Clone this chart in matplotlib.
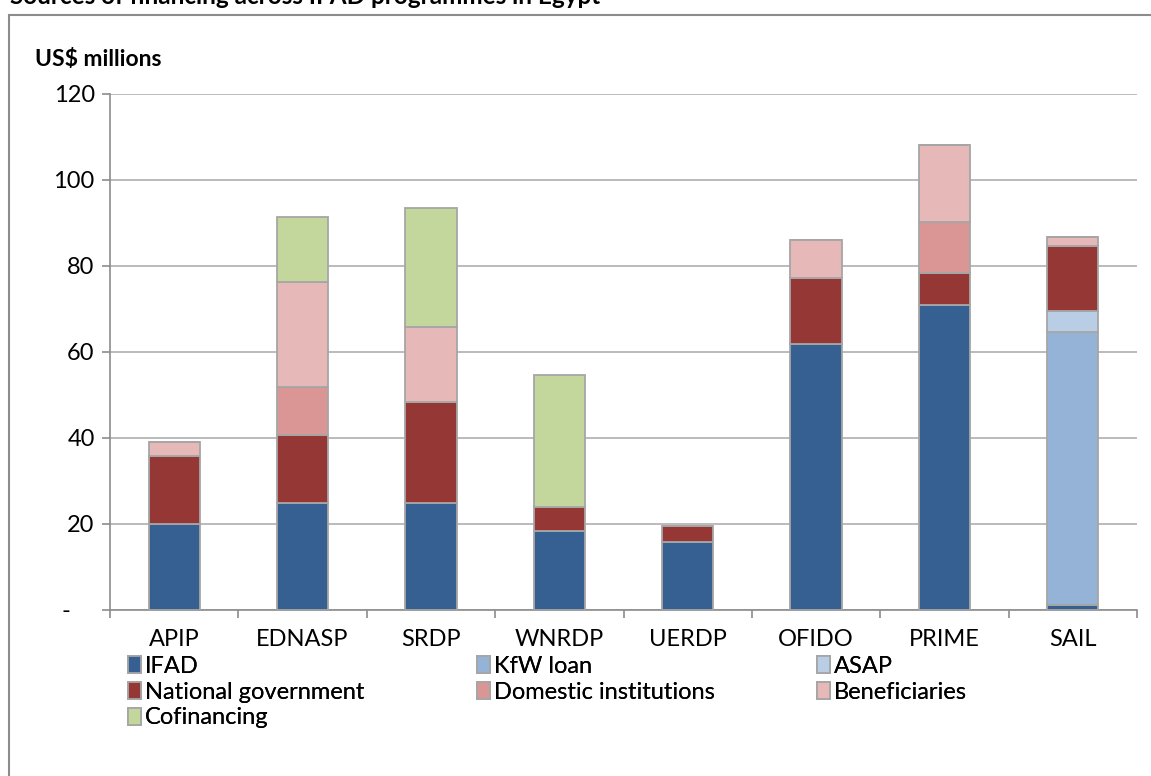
import matplotlib
matplotlib.use("Agg")
import matplotlib.pyplot as plt
from matplotlib.patches import Rectangle
import numpy as np

categories = ["APIP", "EDNASP", "SRDP", "WNRDP", "UERDP", "OFIDO", "PRIME", "SAIL"]
series_names = ["IFAD", "KfW loan", "ASAP", "National government",
                "Domestic institutions", "Beneficiaries", "Cofinancing"]
ifad = [20.0, 24.8, 25.0, 18.4, 15.9, 61.9, 70.9, 1.2]
kfw = [0, 0, 0, 0, 0, 0, 0, 63.4]
asap = [0, 0, 0, 0, 0, 0, 0, 4.9]
natgov = [15.8, 15.9, 23.3, 5.5, 3.7, 15.2, 7.4, 15.2]
domestic = [0, 11.2, 0, 0, 0, 0, 12.0, 0]
beneficiaries = [3.3, 24.3, 17.4, 0, 0, 8.9, 17.8, 2.1]
cofinancing = [0, 15.3, 27.9, 30.8, 0, 0, 0, 0]
yticks = [0, 20, 40, 60, 80, 100, 120]
ytick_labels = ["-    ", "20", "40", "60", "80", "100", "120"]

colors = ["#376092", "#95B3D7", "#B9CDE5", "#953735", "#D99694", "#E6B9B8", "#C3D69B"]
series = [ifad, kfw, asap, natgov, domestic, beneficiaries, cofinancing]

plt.rcParams['font.family'] = ['Lato', 'DejaVu Sans']

W, H = 1151, 776
fig = plt.figure(figsize=(W / 100, H / 100), dpi=100)

# outer frame
fig.patches.append(Rectangle((9 / W, -0.01), 1.02, 1 - 15 / H + 0.01, transform=fig.transFigure,
                             fill=False, edgecolor="#8C8C8C", linewidth=1.5, zorder=0))

fig.text(10 / W, 1 - 4 / H, "Sources of financing across IFAD programmes in Egypt",
         fontsize=17.5, fontweight='bold', va='baseline', ha='left')

ax = fig.add_axes([110 / W, 1 - 610 / H, (1137 - 110) / W, (610 - 94) / H])
x = np.arange(len(categories))
bottom = np.zeros(len(categories))
handles = []
for name, vals, c in zip(series_names, series, colors):
    v = np.array(vals, dtype=float)
    b = ax.bar(x, v, width=0.4, bottom=bottom, color=c, edgecolor="#A6A6A6",
               linewidth=1.3, label=name, zorder=3)
    handles.append(b)
    bottom += v

ax.set_xlim(-0.5, len(categories) - 0.5)
ax.set_ylim(0, 120)
ax.set_yticks(yticks)
ax.set_yticklabels(ytick_labels, fontsize=17)
ax.yaxis.grid(True, color="#AFAFAF", linewidth=1.2, zorder=0)
ax.set_axisbelow(True)
ax.set_xticks(x)
ax.set_xticklabels(categories, fontsize=17)
ax.set_xticks(np.arange(-0.5, len(categories)), minor=True)
ax.tick_params(axis='x', which='major', length=0, pad=14)
ax.tick_params(axis='x', which='minor', length=6, color="#8C8C8C", width=1.2)
ax.tick_params(axis='y', length=6, color="#8C8C8C", width=1.2, pad=5)
for s in ['top', 'right']:
    ax.spines[s].set_visible(False)
for s in ['left', 'bottom']:
    ax.spines[s].set_color("#8C8C8C")
    ax.spines[s].set_linewidth(1.2)

fig.text(35 / W, 1 - 60 / H, "US$ millions", fontsize=16.5, fontweight='bold', va='center', ha='left')

# legend: three columns placed explicitly, row-major order
col_x = [128, 477, 817]
for ci in range(3):
    idx = list(range(ci, len(handles), 3))
    leg = fig.legend([handles[i] for i in idx], [series_names[i] for i in idx],
                     loc='upper left', bbox_to_anchor=(col_x[ci] / W, 1 - 656 / H),
                     frameon=False, fontsize=17,
                     handlelength=0.55, handleheight=0.75, handletextpad=0.15,
                     labelspacing=0.2, borderaxespad=0, borderpad=0)
    fig.add_artist(leg)

fig.savefig("out.png", dpi=100)
